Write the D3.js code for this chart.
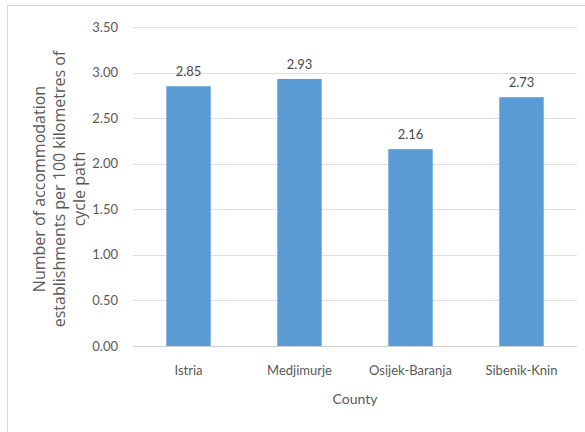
<!DOCTYPE html>
<html>
<head>
<meta charset="utf-8">
<script src="https://cdn.jsdelivr.net/npm/d3@7"></script>
<style>
  body { margin: 0; background: #fff; }
</style>
</head>
<body>
<script>
const counties = ["Istria", "Medjimurje", "Osijek-Baranja", "Sibenik-Knin"];
const values = [2.85, 2.93, 2.16, 2.73];
const yTicks = [0, 0.5, 1, 1.5, 2, 2.5, 3, 3.5];

const width = 585;
const height = 432;
const margin = {top: 27, right: 8, bottom: 86, left: 133};

const svg = d3.select("body")
    .append("svg")
    .attr("width", width)
    .attr("height", height)
    .style("font-family", "Lato, sans-serif");

// chart frame (only left and top edges show)
svg.append("line").attr("x1", 7.5).attr("x2", 7.5).attr("y1", 5).attr("y2", height)
    .attr("stroke", "#d9d9d9");
svg.append("line").attr("x1", 7).attr("x2", width).attr("y1", 5.5).attr("y2", 5.5)
    .attr("stroke", "#d9d9d9");

const x = d3.scaleBand()
    .domain(counties)
    .range([margin.left, width - margin.right])
    .paddingInner(0.6)
    .paddingOuter(0.3);

const y = d3.scaleLinear()
    .domain([0, 3.5])
    .range([height - margin.bottom, margin.top]);

// gridlines
svg.append("g")
    .selectAll("line")
    .data(yTicks)
    .join("line")
    .attr("x1", margin.left)
    .attr("x2", width - margin.right)
    .attr("y1", function(d){return Math.round(y(d)) + 0.5;})
    .attr("y2", function(d){return Math.round(y(d)) + 0.5;})
    .attr("stroke", function(d){return d === 0 ? "#d0d0d0" : "#e0e0e0";});

// y tick labels
svg.append("g")
    .selectAll("text")
    .data(yTicks)
    .join("text")
    .attr("x", 118)
    .attr("y", function(d){return y(d);})
    .attr("dy", "0.35em")
    .attr("text-anchor", "end")
    .attr("font-size", 13)
    .attr("fill", "#595959")
    .text(function(d){return d3.format(".2f")(d);});

// bars
svg.append("g")
    .selectAll("rect")
    .data(values)
    .join("rect")
    .attr("x", function(d, i){return x(counties[i]);})
    .attr("y", function(d){return y(d);})
    .attr("width", x.bandwidth())
    .attr("height", function(d){return y(0) - y(d);})
    .attr("fill", "#5b9bd5");

// value labels
svg.append("g")
    .selectAll("text")
    .data(values)
    .join("text")
    .attr("x", function(d, i){return x(counties[i]) + x.bandwidth() / 2;})
    .attr("y", function(d){return y(d) - 10;})
    .attr("text-anchor", "middle")
    .attr("font-size", 13)
    .attr("fill", "#4a4a4a")
    .text(function(d){return d3.format(".2f")(d);});

// category labels
svg.append("g")
    .selectAll("text")
    .data(counties)
    .join("text")
    .attr("x", function(d){return x(d) + x.bandwidth() / 2;})
    .attr("y", 375)
    .attr("text-anchor", "middle")
    .attr("font-size", 13)
    .attr("fill", "#595959")
    .text(function(d){return d;});

// x axis title
svg.append("text")
    .attr("x", (margin.left + width - margin.right) / 2)
    .attr("y", 404)
    .attr("text-anchor", "middle")
    .attr("font-size", 14)
    .attr("fill", "#595959")
    .text("County");

// y axis title, three lines
const titleLines = ["Number of accommodation", "establishments per 100 kilometres of", "cycle path"];
svg.append("text")
    .attr("transform", "translate(45,189) rotate(-90)")
    .attr("text-anchor", "middle")
    .attr("font-family", "'Open Sans', sans-serif")
    .attr("font-size", 16)
    .attr("fill", "#595959")
    .selectAll("tspan")
    .data(titleLines)
    .join("tspan")
    .attr("x", 0)
    .attr("dy", function(d, i){return i === 0 ? 0 : 20;})
    .text(function(d){return d;});
</script>
</body>
</html>
